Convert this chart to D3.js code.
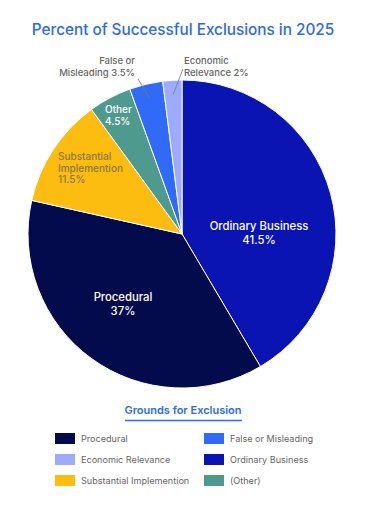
<!DOCTYPE html>
<html><head><meta charset="utf-8">
<script src="https://cdn.jsdelivr.net/npm/d3@7"></script>
<style>body{margin:0;background:#fff;}svg{display:block;font-family:"Inter","Roboto",sans-serif;}</style>
</head><body>
<svg id="c" width="368" height="510"></svg>
<script>
const categories = ["Ordinary Business","Procedural","Substantial Implemention","Other","False or Misleading","Economic Relevance"];
const values = [41.5, 37, 11.5, 4.5, 3.5, 2];
const colors = ["#0a14b2","#030b4c","#fcbd10","#4f9a8f","#2f6bf6","#9eaafb"];
const legendLabels = ["Procedural","False or Misleading","Economic Relevance","Ordinary Business","Substantial Implemention","(Other)"];
const legendColors = ["#030b4c","#2f6bf6","#9eaafb","#0a14b2","#fcbd10","#4f9a8f"];
const title = "Percent of Successful Exclusions in 2025";
const legendTitle = "Grounds for Exclusion";

const svg = d3.select("#c");
const cx = 182, cy = 234, r = 154;

svg.append("text").attr("x", 183).attr("y", 35).attr("text-anchor","middle")
  .attr("fill","#2d6be3").attr("font-size",15.3).attr("font-weight",500).text(title);

const pie = d3.pie().sort(null).value(d=>d)(values);
const arc = d3.arc().innerRadius(0).outerRadius(r);
const g = svg.append("g").attr("transform",`translate(${cx},${cy})`);
g.selectAll("path").data(pie).join("path").attr("d",arc)
  .attr("fill",(d,i)=>colors[i]).attr("stroke","#fff").attr("stroke-width",1);

function lines(x, y, arr, opts){
  const t = svg.append("text").attr("x",x).attr("y",y).attr("text-anchor",opts.anchor)
    .attr("fill",opts.fill).attr("font-size",opts.size).attr("font-weight",opts.weight||500);
  arr.forEach((s,i)=>t.append("tspan").attr("x",x).attr("dy",i?opts.lh:0).text(s));
}
const fmt = v => v + "%";
lines(259, 230, [categories[0], fmt(values[0])], {anchor:"middle", fill:"#fff", size:11.3, lh:14});
lines(123, 301, [categories[1], fmt(values[1])], {anchor:"middle", fill:"#fff", size:11.3, lh:14});
lines(58, 160, ["Substantial","Implemention", fmt(values[2])], {anchor:"start", fill:"#8a7840", size:10, lh:11.5});
lines(105, 113, [categories[3], fmt(values[3])], {anchor:"start", fill:"#fff", size:10, lh:11.5});
lines(135, 64, ["False or","Misleading " + fmt(values[4])], {anchor:"end", fill:"#666", size:9.5, lh:12});
lines(184, 64, ["Economic","Relevance " + fmt(values[5])], {anchor:"start", fill:"#666", size:9.5, lh:12});

function leader(i, x2, y2){
  const a = (pie[i].startAngle + pie[i].endAngle)/2;
  const rr = r - 14;
  svg.append("line").attr("x1", cx + rr*Math.sin(a)).attr("y1", cy - rr*Math.cos(a))
    .attr("x2", x2).attr("y2", y2).attr("stroke","#777").attr("stroke-width",0.8);
}
leader(4, 138, 79);
leader(5, 183, 69);

svg.append("text").attr("x",183).attr("y",414).attr("text-anchor","middle")
  .attr("fill","#2d6be3").attr("font-size",11).attr("font-weight",600).text(legendTitle);
svg.append("line").attr("x1",125).attr("x2",242).attr("y1",420.5).attr("y2",420.5)
  .attr("stroke","#2f6bf6").attr("stroke-width",1.5);
const lg = svg.append("g");
legendLabels.forEach((s,i)=>{
  const col = i%2, row = Math.floor(i/2);
  const x = col ? 204 : 55, y = 433 + row*21;
  lg.append("rect").attr("x",x).attr("y",y).attr("width",20).attr("height",11).attr("fill",legendColors[i]);
  lg.append("text").attr("x",x+26).attr("y",y+9).attr("fill","#666").attr("font-size",9.1).text(s);
});
</script>
</body></html>
